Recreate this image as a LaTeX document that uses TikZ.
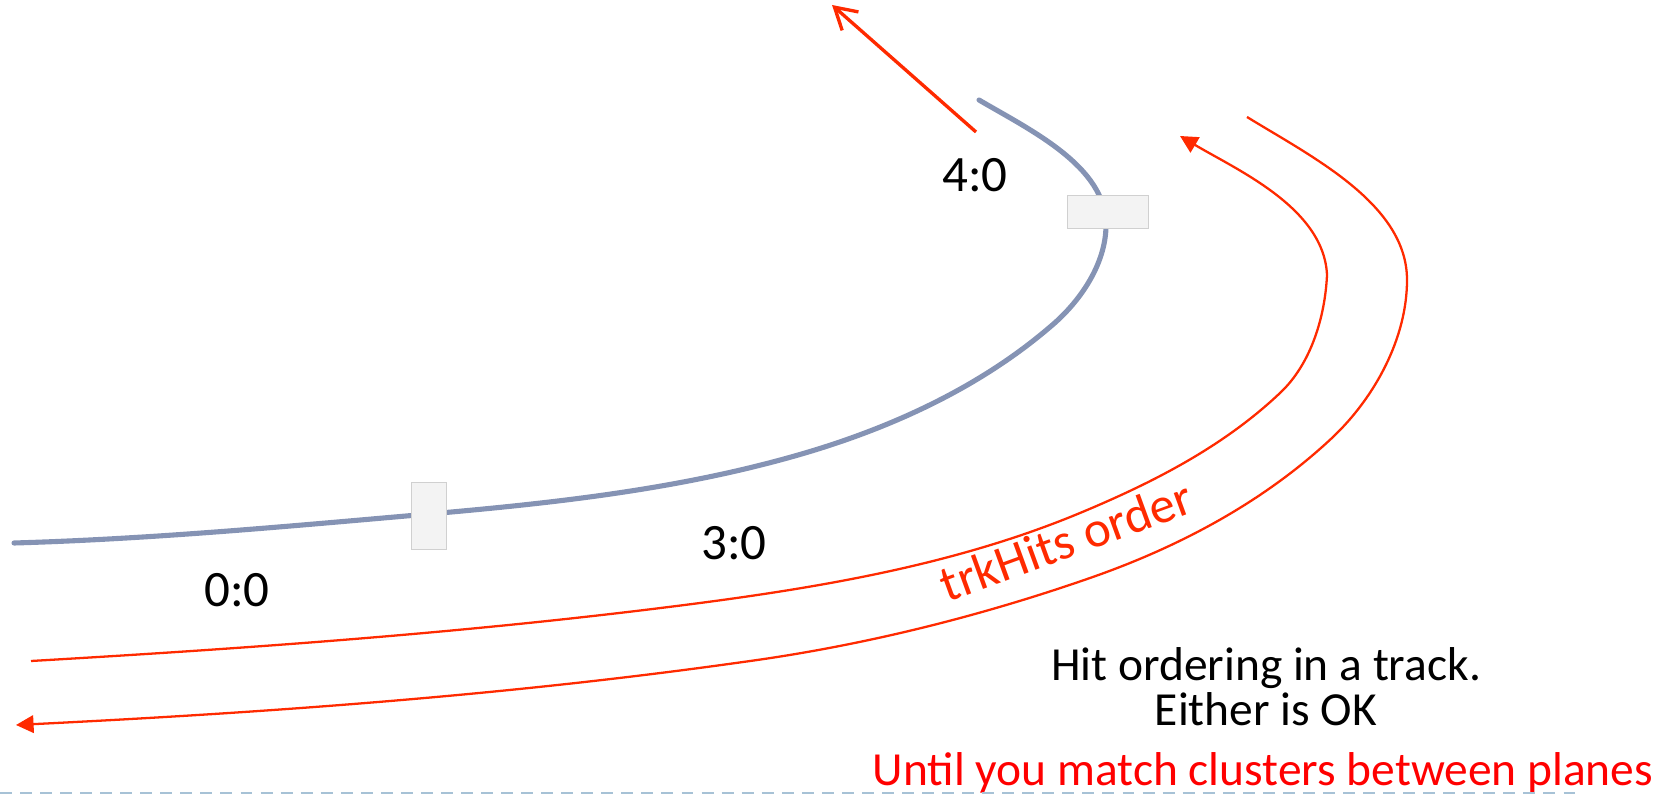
\documentclass[tikz,border=0pt]{standalone}
\usepackage{fontspec}
\setmainfont{Carlito}
\usetikzlibrary{arrows.meta,positioning}
\definecolor{trackblue}{HTML}{8593B4}
\definecolor{ordred}{HTML}{FF2A00}
\definecolor{boxgray}{HTML}{F3F3F3}
\definecolor{boxedge}{HTML}{D0D0D0}
\definecolor{slideline}{HTML}{A7C2D6}

\begin{document}
\begin{tikzpicture}[x=0.01cm,y=-0.01cm,
  track/.style={draw=trackblue,line width=1.45pt,line cap=round},
  hitbox/.style={draw=boxedge,fill=boxgray,line width=0.4pt,inner sep=0pt},
  lbl/.style={font=\fontsize{14.5}{17}\selectfont},
  ordline/.style={draw=ordred,line width=0.65pt},
  note/.style={font=\fontsize{13.5}{16}\selectfont,anchor=base}]
\useasboundingbox (0,0) rectangle (1664,795);
% the track
\draw[track] (14,543) .. controls (153,539) and (291,526) .. (429,514)
  .. controls (555,503) and (683,489) .. (805,453)
  .. controls (893,427) and (980,387) .. (1050,327)
  .. controls (1080,302) and (1106,264) .. (1106,225)
  .. controls (1106,166) and (1030,130) .. (979,100);
\node[hitbox,minimum width=0.35cm,minimum height=0.67cm] (hitA) at (429,516) {};
\node[hitbox,minimum width=0.81cm,minimum height=0.33cm] (hitB) at (1108,212) {};
\node[lbl] (lblA) at (237,590) {0:0};
\node[lbl] (lblB) at (734,543) {3:0};
\node[lbl] (lblC) at (975,175) {4:0};
% direction at the end
\coordinate (exitA) at (976,132);
\coordinate (exitB) at (832,5);
\draw[ordline,line width=0.95pt,-{Straight Barb[length=6pt,width=7pt]}] (exitA) -- (exitB);
% the two orderings
\draw[ordline,-{Triangle[length=5pt,width=5pt]}] (31,661) .. controls (255,648) and (478,632) .. (700,603)
  .. controls (829,586) and (960,563) .. (1080,513)
  .. controls (1152,483) and (1223,447) .. (1280,393)
  .. controls (1311,364) and (1325,317) .. (1327,275)
  .. controls (1324,208) and (1237,170) .. (1180,136);
\draw[ordline,-{Triangle[length=5pt,width=5pt]}] (1247,117) .. controls (1312,157) and (1407,204) .. (1407,280)
  .. controls (1407,338) and (1375,397) .. (1333,437)
  .. controls (1264,502) and (1179,547) .. (1090,578)
  .. controls (978,617) and (861,646) .. (743,662)
  .. controls (502,696) and (259,713) .. (16,725);
\node[text=ordred,font=\fontsize{14.5}{17}\selectfont,anchor=base,rotate=20] (order) at (1072,557) {trkHits order};
% caption
\node[note] (hitline) at (1266,681) {Hit ordering in a track.};
\node[note] (eitherline) at (1266,726) {Either is OK};
\node[note,text=red] (untilline) at (1263,785) {Until you match clusters between planes};
\draw[slideline,line width=0.5pt,dash pattern=on 3.4pt off 2.3pt] (0,793) -- (1582,793);
\end{tikzpicture}
\end{document}
